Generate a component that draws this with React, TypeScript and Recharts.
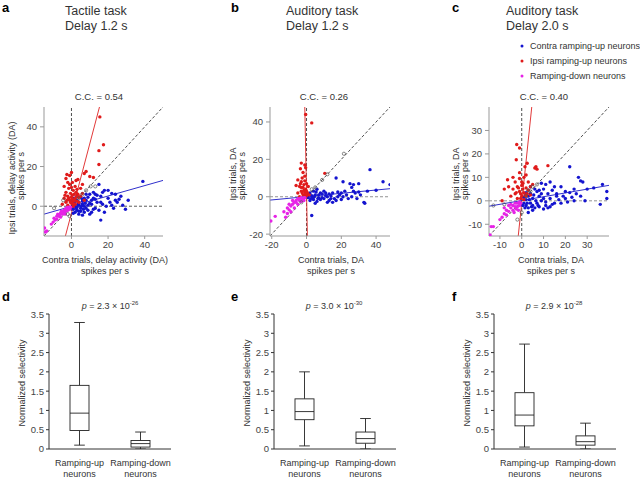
import React from "react";
import { ScatterChart, Scatter, XAxis, YAxis, ReferenceLine, ComposedChart, Bar } from "recharts";

type Pt = [number, number];

// ---- scatter data (contra trials DA, ipsi trials DA), spikes per s ----
const tactileContra: Pt[] = [
  [39, 12.5], [29.5, -1.5], [16, -7], [26, 3.5], [24, 6], [22, 6.5], [20, 4], [18, 8], [17, 7], [15, 11],
  [16, 5], [14, 2], [12, 4], [10, 6], [11, 1], [13, -1], [9, -2], [8, 3], [7, 4], [6, 1], [5, -1], [4, 2],
  [3, -2], [2, 0], [1, 1], [3, 3], [5, 4.5], [7, -3], [9, 0.5], [11, -3], [13, 3.5], [15, -2], [17, 1],
  [19, 0], [21, 2], [23, -1], [27, 5], [31, 3], [25, 2], [2, -3], [4, -4], [6, -4.5], [8, -1], [1, -1.5],
  [0.5, 2], [6, 2.5], [10, -4], [12, 7], [14, 5.5], [18, -3], [20, 8], [22, 0.5], [24, 3], [28, 0.5],
  [4, 0.5], [7, 0], [3, 5], [16, 2], [9, 4.5], [1.5, 4], [11, 3], [8, 6], [13, 6],
  [1, -3.5], [2.5, -1], [3.5, 1], [5, -2.5], [6, 3.5], [2, 2.5], [4, -2.5], [5.5, 0], [0.5, -0.5],
  [7.5, 1.5], [3, -0.5], [1.5, 0.5], [10, 1.5], [12, -1.5], [6.5, -1.5],
];
const tactileIpsi: Pt[] = [
  [15.5, 45], [17.5, 31], [15, 28], [15, 21], [0, 17], [-3, 14], [-1, 15.5], [3.5, 13.5], [7, 16.5],
  [8, 17.5], [10, 15], [12, 14.5], [-2, 12], [0.5, 12], [2, 10], [-4, 10], [-1.5, 9], [1, 8], [3, 8.5],
  [5, 9], [-3, 7], [-0.5, 6.5], [1.5, 6], [3.5, 6], [6, 6.5], [-2, 5], [0, 4.5], [2, 4], [4, 4.5], [-4, 4],
  [-1, 3], [1, 2.5], [3, 2.5], [-3, 2], [0, 1.5], [2, 1], [-2, 0.5], [1, 0], [5, 5], [7, 3], [-5, 1],
  [4, 2], [-1, 11], [2.5, 13], [0.5, 3.5], [6, 11], [-2.5, 16],
  [-0.5, 2], [0.5, 5.5], [1.5, 3], [-1.5, 4], [2.5, 7], [-2.5, 3], [0, 9.5], [3, 5], [-3.5, 5.5], [1, 1],
];
const tactileDown: Pt[] = [
  [-14.7, -11], [-14.2, -13], [-13.5, -12.5], [-10, -8], [-9, -7], [-8, -6.5], [-7, -5], [-6, -5.5],
  [-5, -4], [-4.5, -3], [-4, -3.5], [-3.5, -2], [-3, -2.5], [-2.5, -1.5], [-2, -2], [-1.5, -1], [-1, -0.5],
  [-6, -3.5], [-7.5, -4], [-5.5, -2.5], [-3, -1], [-4, -2], [-2, -0.5], [-1, -1.5], [-8, -5], [-9.5, -6],
  [-11, -9], [-6.5, -4.5], [-5, -3], [-0.5, -0.5], [-3.5, -4],
];
const tactileOther: Pt[] = [[-9.5, -1], [8, 8], [10.5, 10], [13, 10], [-1, -5], [-4.5, 3], [6, 6], [4, 4], [-2, -4]];

const aud12Contra: Pt[] = [
  [36.5, 14.5], [44, 8], [48, 6.5], [17, 10], [21, 8], [25, 7], [27, 6.5], [30, 7], [26, 5], [33, -3],
  [33.5, -3.5], [3, -10], [19, 1], [22, 3], [28, 2], [30, 2.5], [35, 3], [40, 3.5], [24, -1], [15, -3],
  [13, -2], [12, 0], [10, -1], [8, 2], [7, -0.5], [5, 1], [4, -1.5], [3, 0.5], [2, 2], [1, -0.5], [6, -2.5],
  [9, 1.5], [11, 2], [14, 0.5], [16, -1], [18, 2.5], [20, -1.5], [23, 1], [26, 0], [29, -1], [31, 1], [4, 3],
  [6, 4], [2, -2], [8, -1.5], [10, 3], [12, -3], [17, -2], [21, 0], [27, 3], [5, -3.5], [15, 2],
  [1.5, 1], [3.5, -0.5], [5.5, 2.5], [7, 1], [9, -0.5], [11, 0.5], [13, 1.5], [2.5, -1], [4.5, 0],
  [6.5, -1], [14, -1], [18, 0], [20, 2], [0.5, 0.5],
];
const aud12Ipsi: Pt[] = [
  [-0.5, 44], [3, 39.5], [-3, 18], [-1, 17], [-3.5, 15], [-0.5, 15.5], [-2, 13], [10.5, 12.5], [-5, 9],
  [-3, 8], [-1, 8.5], [0, 7], [-6, 6], [-4, 5.5], [-2, 5], [-0.5, 4], [1, 5.5], [-3, 3], [-1, 2.5], [0.5, 2],
  [-5, 2], [-2, 1], [0, 0.5], [-4, 0], [1.5, 1], [-1.5, 6.5], [-2.5, 10], [-1, 11], [-3.5, 7], [-0.5, 1.5],
  [-1.5, 3.5], [-2.5, 2], [0, 3], [-3, 5], [-1, 1],
];
const aud12Down: Pt[] = [
  [-20.5, -13], [-18, -10.5], [-13, -8], [-12, -11], [-11, -9], [-10, -7], [-9, -5], [-8, -4], [-7, -6],
  [-6, -3], [-5, -4], [-4, -2], [-3, -2.5], [-2.5, -1], [-2, -1.5], [-1, -0.5], [-6, -2], [-4, -1], [-8, -2],
  [-10, -4], [-5, -1], [-3, -0.5], [-7, -3], [-9, -8], [-11, -6], [-1.5, -2],
];
const aud12Other: Pt[] = [[12, 12], [21.5, 23], [5, 5], [3, 4], [-3, -3], [9, 9]];

const aud20Contra: Pt[] = [
  [22, 14.5], [26, 10], [28, 8], [27, 8.5], [37, 7], [39, 4], [36, -1.5], [39, 1], [30, 5], [24, 5],
  [33, 5.5], [20, 4], [18, 6], [16, 2], [14, 4.5], [12, 3], [10, 5], [8, 2], [7, 4], [5, 1], [4, -1], [3, 2],
  [2, 0.5], [1, -1], [3, -3], [5, -2], [7, -1], [9, 0], [11, -2], [13, 1], [15, -1], [17, 0.5], [19, 2],
  [21, -0.5], [23, 1.5], [25, 3], [27, 2], [29, 0], [11, 7], [13, 8], [15, 6], [9, 7.5], [6, 5], [4, 3],
  [2, -2], [6, -3], [8, -2.5], [10, 1], [14, -1.5], [18, -1], [3, -5], [12, -3], [16, 3], [20, 1], [1, 1.5],
  [4, 6], [8, 4.5], [22, 3.5], [24, 0],
  [1.5, -3], [2.5, -1], [3.5, 0.5], [4.5, -2.5], [5.5, 2.5], [6.5, 0], [7.5, -2], [9, 3], [11, -0.5],
  [2, 3.5], [0.5, -2], [5, -4], [10, -3.5], [13, -2.5],
];
const aud20Ipsi: Pt[] = [
  [-2.3, 24], [-1, 22.5], [1.5, 14.5], [2.5, 16], [-2.5, 17.5], [6, 14], [7, 13.5], [6.5, 14.5], [12, 15],
  [-6.5, 9], [-8, 5], [-4, 10], [-3, 8], [-1, 9.5], [1, 10], [3, 8], [5, 7], [-2, 6], [0, 6.5], [2, 5.5],
  [-1, 4], [1, 3.5], [3, 4.5], [-3, 3], [0, 2], [2, 2], [4, 2.5], [-2, 1], [1, 0.5], [-5, 2], [-9, 0],
  [-4, 5], [0, 8], [-1, 12], [2, 11], [4, 6], [-6, 6],
  [-0.5, 3], [0.5, 5], [1.5, 2.5], [-1.5, 5.5], [-2.5, 3.5], [2.5, 3], [-0.5, 1], [0.5, 7.5],
];
const aud20Down: Pt[] = [
  [-14.5, -14.5], [-14, -11], [-13, -11], [-10, -8], [-9, -7], [-8, -5.5], [-7, -4], [-6, -4.5], [-5, -3],
  [-4, -2], [-3, -2.5], [-2, -1], [-1, -0.5], [-5, -1.5], [-3, -1], [-2, -2.5], [-4, -4], [-6, -2], [-7, -6],
  [-8, -3], [-1, -2], [-2.5, -3.5], [-3.5, -5], [-1.5, -4], [-0.5, -1],
];
const aud20Other: Pt[] = [[-13, -2], [-8, -1.5], [2, 2], [4, 4], [5, 6], [7, 7], [-2, -8], [0, -5], [3, 4.5]];

// regression fits, [start, end] in data units
const tactileRedFit: Pt[] = [[-3.3, -15], [15.3, 50]];
const tactileBlueFit: Pt[] = [[-15, -4], [50, 13]];
const aud12RedFit: Pt[] = [[0.5, -21], [-1, 48]];
const aud12BlueFit: Pt[] = [[-21, -1.8], [48, 4.3]];
const aud20RedFit: Pt[] = [[-1.6, -15], [4.6, 40]];
const aud20BlueFit: Pt[] = [[-15, -2.3], [40, 6.6]];

// ---- box plot data: min, q1, median, q3, max ----
const boxCategories = ["Ramping-up neurons", "Ramping-down neurons"];
const tactileBoxes = [[0.1, 0.48, 0.93, 1.65, 3.28], [0.0, 0.05, 0.14, 0.22, 0.44]];
const aud12Boxes = [[0.08, 0.76, 0.97, 1.3, 2.0], [0.0, 0.15, 0.27, 0.44, 0.79]];
const aud20Boxes = [[0.05, 0.6, 0.88, 1.46, 2.72], [0.0, 0.1, 0.19, 0.34, 0.67]];
const boxTicks = [0, 0.5, 1, 1.5, 2, 2.5, 3, 3.5];

const FONT = "'Liberation Sans', Arial, Helvetica, sans-serif";
const BLUE = "#1414cf";
const RED = "#e01b1b";
const MAGENTA = "#e623e6";

const toXY = (pts: Pt[]) => pts.map(([x, y]) => ({ x, y }));
const seg = (pts: Pt[]) => pts.map(([x, y]) => ({ x, y }));

const dot = (color: string) => (p: any) => <circle cx={p.cx} cy={p.cy} r={1.7} fill={color} />;
const ring = (p: any) => <circle cx={p.cx} cy={p.cy} r={1.6} fill="none" stroke="#555" strokeWidth={0.7} />;

function ScatterPanel(props: any) {
  const { left, top, w, h, domain, ticks, contra, ipsi, down, other, redFit, blueFit, hColor } = props;
  const YW = 30, XH = 20, MT = 4, MR = 4;
  const tickStyle = { fontSize: 9.5, fill: "#444", fontFamily: FONT };
  return (
    <div style={{ position: "absolute", left: left - YW, top: top - MT }}>
      <ScatterChart width={w + YW + MR} height={h + MT + XH} margin={{ top: MT, right: MR, bottom: 0, left: 0 }}>
        <XAxis type="number" dataKey="x" domain={domain} ticks={ticks} allowDataOverflow height={XH}
          tick={tickStyle} tickSize={3} stroke="#999" />
        <YAxis type="number" dataKey="y" domain={domain} ticks={ticks} allowDataOverflow width={YW}
          tick={tickStyle} tickSize={4} tickMargin={3} stroke="#999" />
        <ReferenceLine x={0} stroke="#222" strokeDasharray="3 2" strokeWidth={0.8} />
        <ReferenceLine y={0} stroke={hColor} strokeDasharray="3 2" strokeWidth={0.8} />
        <ReferenceLine segment={seg([[domain[0], domain[0]], [domain[1], domain[1]]])} stroke="#222"
          strokeDasharray="3 2" strokeWidth={0.8} ifOverflow="visible" />
        <Scatter data={toXY(contra)} shape={dot(BLUE)} isAnimationActive={false} />
        <Scatter data={toXY(ipsi)} shape={dot(RED)} isAnimationActive={false} />
        <Scatter data={toXY(down)} shape={dot(MAGENTA)} isAnimationActive={false} />
        <Scatter data={toXY(other)} shape={ring} isAnimationActive={false} />
        <ReferenceLine segment={seg(redFit)} stroke="#e23a3a" strokeWidth={1} ifOverflow="visible" />
        <ReferenceLine segment={seg(blueFit)} stroke="#3030cc" strokeWidth={1} ifOverflow="visible" />
      </ScatterChart>
    </div>
  );
}

const BoxShape = (p: any) => {
  const { x, width, payload } = p;
  const y0 = Math.min(p.y, p.y + p.height);
  const y1 = Math.max(p.y, p.y + p.height);
  const [mn, q1, med, q3, mx] = payload.stats;
  const py = (v: number) => y1 - ((v - mn) / (mx - mn)) * (y1 - y0);
  const cx = x + width / 2;
  const cap = width * 0.28;
  const s = "#222";
  return (
    <g>
      <line x1={cx} x2={cx} y1={py(mx)} y2={py(q3)} stroke={s} strokeWidth={0.9} />
      <line x1={cx} x2={cx} y1={py(q1)} y2={py(mn)} stroke={s} strokeWidth={0.9} />
      <line x1={cx - cap} x2={cx + cap} y1={py(mx)} y2={py(mx)} stroke={s} strokeWidth={0.9} />
      <line x1={cx - cap} x2={cx + cap} y1={py(mn)} y2={py(mn)} stroke={s} strokeWidth={0.9} />
      <rect x={x} y={py(q3)} width={width} height={py(q1) - py(q3)} fill="#fff" stroke={s} strokeWidth={0.9} />
      <line x1={x} x2={x + width} y1={py(med)} y2={py(med)} stroke={s} strokeWidth={0.9} />
    </g>
  );
};

const BoxTick = (p: any) => {
  const words = String(p.payload.value).split(" ");
  return (
    <text x={p.x} y={p.y} textAnchor="middle" fontSize={9} fill="#333" fontFamily={FONT}>
      <tspan x={p.x} dy={17}>{words[0]}</tspan>
      <tspan x={p.x} dy={10.5}>{words[1]}</tspan>
    </text>
  );
};

function BoxPanel({ axisX, boxes }: { axisX: number; boxes: number[][] }) {
  const YW = 30, MT = 4, plotH = 135, plotW = 122, XH = 34;
  const rows = boxCategories.map((name, i) => ({
    name,
    range: [boxes[i][0], boxes[i][4]],
    stats: boxes[i],
  }));
  return (
    <div style={{ position: "absolute", left: axisX - YW, top: 314 - MT }}>
      <ComposedChart width={YW + plotW + 2} height={MT + plotH + XH} data={rows}
        margin={{ top: MT, right: 2, bottom: 0, left: 0 }}>
        <XAxis dataKey="name" tick={BoxTick} tickLine={false} tickSize={0} tickMargin={0} height={XH}
          stroke="#333" interval={0} />
        <YAxis type="number" domain={[0, 3.5]} ticks={boxTicks} allowDataOverflow width={YW} tickSize={3}
          stroke="#333" tick={{ fontSize: 9.5, fill: "#444", fontFamily: FONT }} />
        <Bar dataKey="range" barSize={19} shape={BoxShape} isAnimationActive={false} />
      </ComposedChart>
    </div>
  );
}

export default function App() {
  const label = { fontFamily: FONT, fill: "#333" };
  const pLabel = (x: number, mant: string, exp: string) => (
    <text x={x} y={309} textAnchor="middle" fontSize={9} {...label}>
      <tspan fontStyle="italic">p</tspan> = {mant} × 10<tspan fontSize={6} dy={-4}>{exp}</tspan>
    </text>
  );
  const yLab = (x: number, cy: number, t: string) => (
    <text x={x} y={cy} transform={`rotate(-90 ${x} ${cy})`} textAnchor="middle" fontSize={9} {...label}>{t}</text>
  );
  const txt = (x: number, y: number, t: string, size = 9, anchor = "middle") => (
    <text x={x} y={y} textAnchor={anchor} fontSize={size} {...label}>{t}</text>
  );
  return (
    <div style={{ position: "absolute", left: 0, top: 0, width: 640, height: 477, overflow: "hidden", background: "#fff" }}>
      <ScatterPanel left={44} top={107} w={119} h={129} domain={[-15, 50]} ticks={[0, 20, 40]}
        contra={tactileContra} ipsi={tactileIpsi} down={tactileDown} other={tactileOther}
        redFit={tactileRedFit} blueFit={tactileBlueFit} hColor="#333" />
      <ScatterPanel left={270} top={107} w={120} h={129} domain={[-21, 48]} ticks={[-20, 0, 20, 40]}
        contra={aud12Contra} ipsi={aud12Ipsi} down={aud12Down} other={aud12Other}
        redFit={aud12RedFit} blueFit={aud12BlueFit} hColor="#777" />
      <ScatterPanel left={489} top={107} w={120} h={129} domain={[-15, 40]} ticks={[-10, 0, 10, 20, 30]}
        contra={aud20Contra} ipsi={aud20Ipsi} down={aud20Down} other={aud20Other}
        redFit={aud20RedFit} blueFit={aud20BlueFit} hColor="#777" />
      <BoxPanel axisX={49} boxes={tactileBoxes} />
      <BoxPanel axisX={274} boxes={aud12Boxes} />
      <BoxPanel axisX={494} boxes={aud20Boxes} />
      <svg width={640} height={477} style={{ position: "absolute", left: 0, top: 0, pointerEvents: "none" }}>
        <g fontFamily={FONT} fontWeight="bold" fontSize={13} fill="#000">
          <text x={2} y={12}>a</text>
          <text x={231} y={12}>b</text>
          <text x={452} y={12}>c</text>
          <text x={2} y={301}>d</text>
          <text x={231} y={301}>e</text>
          <text x={452} y={301}>f</text>
        </g>
        {txt(65, 15, "Tactile task", 12.5, "start")}
        {txt(65, 30, "Delay 1.2 s", 12.5, "start")}
        {txt(286, 15, "Auditory task", 12.5, "start")}
        {txt(286, 30, "Delay 1.2 s", 12.5, "start")}
        {txt(506, 15, "Auditory task", 12.5, "start")}
        {txt(506, 30, "Delay 2.0 s", 12.5, "start")}

        <circle cx={522} cy={46} r={1.5} fill={BLUE} />
        <circle cx={522} cy={61} r={1.5} fill={RED} />
        <circle cx={522} cy={76} r={1.5} fill={MAGENTA} />
        {txt(530, 49, "Contra ramping-up neurons", 9, "start")}
        {txt(530, 64, "Ipsi ramping-up neurons", 9, "start")}
        {txt(530, 79, "Ramping-down neurons", 9, "start")}

        {txt(99, 100, "C.C. = 0.54", 9.5)}
        {txt(324, 100, "C.C. = 0.26", 9.5)}
        {txt(544, 100, "C.C. = 0.40", 9.5)}

        {txt(105, 263, "Contra trials, delay activity (DA)")}
        {txt(105, 274, "spikes per s")}
        {txt(331, 263, "Contra trials, DA")}
        {txt(331, 274, "spikes per s")}
        {txt(551, 263, "Contra trials, DA")}
        {txt(551, 274, "spikes per s")}

        {yLab(15, 178, "Ipsi trials, delay activity (DA)")}
        {yLab(24, 176, "spikes per s")}
        {yLab(236, 174, "Ipsi trials, DA")}
        {yLab(245, 176, "spikes per s")}
        {yLab(459, 174, "Ipsi trials, DA")}
        {yLab(468, 176, "spikes per s")}

        {pLabel(110, "2.3", "-26")}
        {pLabel(334, "3.0", "-30")}
        {pLabel(554, "2.9", "-28")}
        {yLab(25, 383, "Normalized selectivity")}
        {yLab(250, 383, "Normalized selectivity")}
        {yLab(470, 383, "Normalized selectivity")}
      </svg>
    </div>
  );
}
